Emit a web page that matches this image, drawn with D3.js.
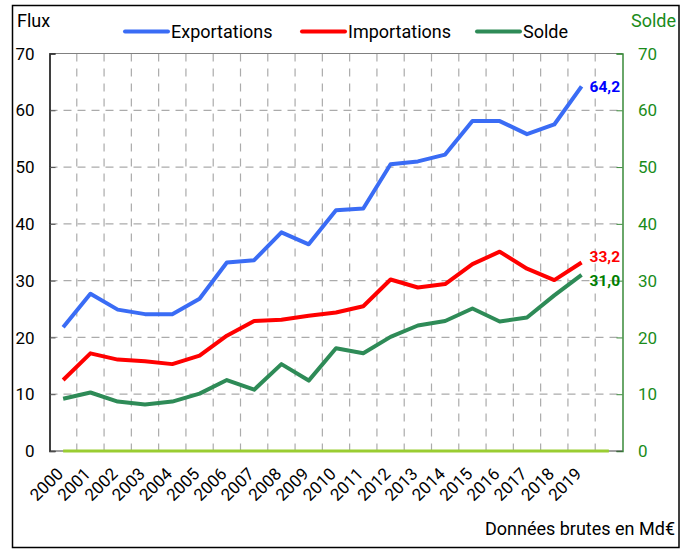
<!DOCTYPE html>
<html><head><meta charset="utf-8">
<script src="https://cdn.jsdelivr.net/npm/d3@7"></script>
<style>
html,body{margin:0;padding:0;background:#fff;}
svg{display:block;font-family:Roboto,"Noto Sans",sans-serif;}
</style></head>
<body>
<svg id="chart" width="695" height="549"></svg>
<script>
const years = ["2000","2001","2002","2003","2004","2005","2006","2007","2008","2009","2010","2011","2012","2013","2014","2015","2016","2017","2018","2019"];
const bands = years.concat(["2020"]);
const exportations = [21.8,27.7,24.9,24.1,24.1,26.8,33.2,33.6,38.5,36.4,42.4,42.7,50.5,51.0,52.2,58.1,58.1,55.8,57.5,64.2];
const importations = [12.5,17.2,16.1,15.8,15.3,16.8,20.3,22.9,23.1,23.8,24.4,25.5,30.2,28.8,29.4,32.9,35.1,32.1,30.1,33.2];
const solde = [9.2,10.3,8.7,8.2,8.7,10.1,12.5,10.8,15.3,12.4,18.1,17.2,20.1,22.1,22.9,25.1,22.8,23.5,27.4,31.0];
const yTicks = [0,10,20,30,40,50,60,70];
const seriesNames = ["Exportations","Importations","Solde"];
const endLabels = ["64,2","33,2","31,0"];

const svg = d3.select("#chart");
const L = 49.5, R = 622.5, T = 53.5, B = 451;
const x = d3.scaleBand().domain(bands).range([L, R]).padding(0);
const xc = d => x(d) + x.bandwidth()/2;
const y = d3.scaleLinear().domain([0,70]).range([B, T]);

// outer frame
svg.append("rect").attr("x",12.5).attr("y",5.5).attr("width",666.5).attr("height",542)
  .attr("fill","none").attr("stroke","#000").attr("stroke-width",1.5);

// horizontal grid
svg.append("g").selectAll("line").data(yTicks.filter(v=>v>0 && v<70)).join("line")
  .attr("x1",L).attr("x2",R).attr("y1",d=>y(d)).attr("y2",d=>y(d))
  .attr("stroke","#ababab").attr("stroke-width",1.2).attr("stroke-dasharray","8,6");
// vertical grid
svg.append("g").selectAll("line").data(bands.slice(1)).join("line")
  .attr("x1",d=>x(d)).attr("x2",d=>x(d)).attr("y1",T).attr("y2",B)
  .attr("stroke","#ababab").attr("stroke-width",1.2).attr("stroke-dasharray","8,7");
// top border
svg.append("line").attr("x1",L).attr("x2",R).attr("y1",T).attr("y2",T).attr("stroke","#808080").attr("stroke-width",1.2);

// left axis
const gl = svg.append("g").attr("transform",`translate(${L},0)`)
  .call(d3.axisRight(y).tickValues(yTicks).tickSize(6).tickFormat(""));
gl.select(".domain").attr("stroke","#000").attr("stroke-width",1.5);
gl.selectAll(".tick line").attr("stroke","#555");
svg.append("g").selectAll("text").data(yTicks).join("text")
  .attr("x",34.5).attr("y",d=>y(d)).attr("dy","0.36em").attr("text-anchor","end")
  .attr("font-size",17).attr("fill","#000").text(d=>d);

// right axis
const gr = svg.append("g").attr("transform",`translate(${R},0)`)
  .call(d3.axisLeft(y).tickValues(yTicks).tickSize(6).tickFormat(""));
gr.select(".domain").attr("stroke","#3a8a3a").attr("stroke-width",1.5);
gr.selectAll(".tick line").attr("stroke","#3a8a3a");
svg.append("g").selectAll("text").data(yTicks).join("text")
  .attr("x",638).attr("y",d=>y(d)).attr("dy","0.36em").attr("text-anchor","start")
  .attr("font-size",17).attr("fill","#1a8c1a").text(d=>d);

// bottom axis line
svg.append("line").attr("x1",L).attr("x2",R).attr("y1",B).attr("y2",B).attr("stroke","#444").attr("stroke-width",1.2);
// zero line for solde
svg.append("line").attr("x1",xc("2000")).attr("x2",xc("2020")).attr("y1",y(0)).attr("y2",y(0))
  .attr("stroke","#9acd32").attr("stroke-width",3);

// x labels
svg.append("g").selectAll("text").data(years).join("text")
  .attr("transform",d=>`translate(${xc(d)+1},${B+24}) rotate(-45)`)
  .attr("text-anchor","end").attr("font-size",17).attr("fill","#000").text(d=>d);

// series
const colors = ["#3a6cf5","#ff0000","#2e8b57"];
const labelColors = ["#0000ff","#ff0000","#008000"];
const labelShift = [0,-6,6];
const data = [exportations, importations, solde];
const line = d3.line().x((d,i)=>xc(years[i])).y(d=>y(d));
data.forEach((s,k)=>{
  svg.append("path").attr("d",line(s)).attr("fill","none").attr("stroke",colors[k])
    .attr("stroke-width",4).attr("stroke-linejoin","round");
  svg.append("text").attr("x",xc("2019")+8).attr("y",y(s[s.length-1])+labelShift[k]).attr("dy","0.35em")
    .attr("font-size",15.5).attr("font-weight","bold").attr("fill",labelColors[k]).text(endLabels[k]);
});

// legend
const legX = [125,302,477];
seriesNames.forEach((n,k)=>{
  svg.append("line").attr("x1",legX[k]).attr("x2",legX[k]+43).attr("y1",31.5).attr("y2",31.5)
    .attr("stroke",colors[k]).attr("stroke-width",4).attr("stroke-linecap","round");
  svg.append("text").attr("x",legX[k]+46).attr("y",31.5).attr("dy","0.36em")
    .attr("font-size",18).attr("fill","#000").text(n);
});

// titles
svg.append("text").attr("x",17).attr("y",27).attr("font-size",18).attr("fill","#000").text("Flux");
svg.append("text").attr("x",676).attr("y",27).attr("text-anchor","end").attr("font-size",18).attr("fill","#1a8c1a").text("Solde");
svg.append("text").attr("x",675).attr("y",535).attr("text-anchor","end").attr("font-size",18).attr("fill","#000").text("Données brutes en Md€");
</script>
</body></html>
